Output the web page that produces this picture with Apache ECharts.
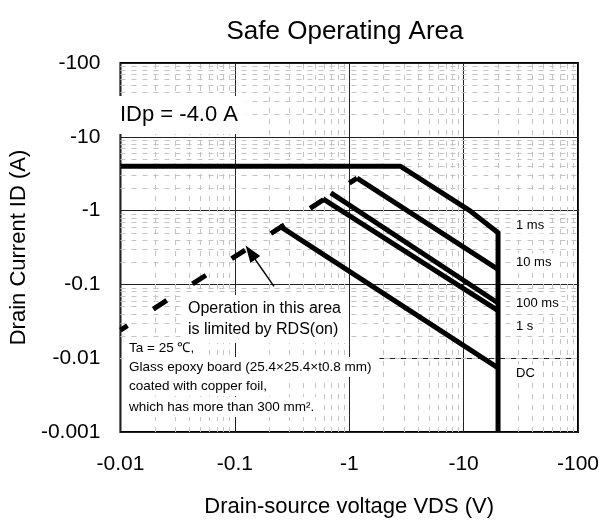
<!DOCTYPE html>
<html>
<head>
<meta charset="utf-8">
<script src="https://cdn.jsdelivr.net/npm/echarts@6/dist/echarts.min.js"></script>
<style>
  html, body { margin: 0; padding: 0; background: #fff; }
  #soa { width: 609px; height: 523px; }
</style>
</head>
<body>
<div id="soa"></div>
<script>
(function () {
  'use strict';

  var FONT = '"Liberation Sans", Arial, sans-serif';

  // tick labels (drawn as negative values, axes use magnitudes)
  var xTickLabels = ['-0.01', '-0.1', '-1', '-10', '-100'];
  var yTickLabels = ['-0.001', '-0.01', '-0.1', '-1', '-10', '-100'];

  // curves, [|VDS| (V), |ID| (A)]
  var pulseLimit = [[0.01, 4], [2.8, 4], [11.3, 1], [20, 0.5], [20, 0.001]];
  var curve10ms = [[1.17, 2.75], [20, 0.16]];
  var curve100ms = [[0.69, 1.74], [20, 0.056]];
  var curve1s = [[0.59, 1.44], [20, 0.044]];
  var curveDC = [[0.245, 0.62], [20, 0.0074]];
  var rdsLimit = [[0.01, 0.024], [1.17, 2.75]];

  // arrow pointing at the RDS(on) line
  var arrowFrom = [0.22, 0.094];
  var arrowTo = [0.137, 0.27];

  // minor grid
  var minorSteps = [2, 3, 4, 5, 6, 7, 8, 9];
  var xDecades = [0.01, 0.1, 1, 10];
  var yDecades = [0.001, 0.01, 0.1, 1, 10];

  var curveLabels = ['1 ms', '10 ms', '100 ms', '1 s', 'DC'];
  var curveLabelY = [225, 262, 303, 326, 373];

  var notes = [
    'Ta = 25 \u2103,',
    'Glass epoxy board (25.4\u00d725.4\u00d7t0.8 mm)',
    'coated with copper foil,',
    'which has more than 300 mm\u00b2.'
  ];
  var notesY = [348, 367, 386, 407];

  var measureCtx = document.createElement('canvas').getContext('2d');

  function textWidth(t, size) {
    measureCtx.font = size + 'px ' + FONT;
    return Math.max.apply(null, t.split('\n').map(function (l) {
      return measureCtx.measureText(l).width;
    }));
  }

  // white box behind a text, left aligned at x, vertically centred on y
  function boxedText(t, x, y, size, lineHeight, pad) {
    var lines = t.split('\n').length;
    var h = lines * lineHeight;
    return [{
      type: 'rect', z: 3, silent: true,
      shape: { x: x - pad[3], y: y - h / 2 - pad[0],
        width: textWidth(t, size) + pad[1] + pad[3], height: h + pad[0] + pad[2] },
      style: { fill: '#fff' }
    }, {
      type: 'text', x: x, y: y, z: 4, silent: true,
      style: { text: t, fontSize: size, lineHeight: lineHeight, fontFamily: FONT,
        fill: '#000', verticalAlign: 'middle' }
    }];
  }

  function minorLines(decades, key) {
    var out = [];
    decades.forEach(function (d) {
      minorSteps.forEach(function (s) {
        var o = {};
        o[key] = +(d * s).toPrecision(3);
        out.push(o);
      });
    });
    return out;
  }

  function curve(data, extra) {
    var s = {
      type: 'line',
      data: data,
      symbol: 'none',
      z: 5,
      lineStyle: { color: '#000', width: 5, cap: 'butt', join: 'miter' }
    };
    if (extra) {
      Object.keys(extra).forEach(function (k) { s.lineStyle[k] = extra[k]; });
    }
    return s;
  }

  var graphics = [];
  graphics.push({
    type: 'text', x: 345, y: 32, z: 10,
    style: { text: 'Safe Operating Area', fontSize: 26, fontFamily: FONT, fill: '#000',
      align: 'center', verticalAlign: 'middle' }
  });
  graphics = graphics.concat(boxedText('IDp = -4.0 A', 120, 115, 22, 24, [7, 8, 7, 9]));
  graphics = graphics.concat(boxedText('Operation in this area\nis limited by RDS(on)',
    188, 319, 16, 21, [3, 8, 3, 5]));
  notes.forEach(function (t, i) {
    graphics = graphics.concat(boxedText(t, 129, notesY[i], 13.5, 16, [2, 8, 2, 6]));
  });
  curveLabels.forEach(function (t, i) {
    graphics = graphics.concat(boxedText(t, 516, curveLabelY[i], 13, 15, [1, 3, 1, 3]));
  });

  var option = {
    animation: false,
    backgroundColor: '#fff',
    textStyle: { fontFamily: FONT },
    grid: { left: 109, right: 31, top: 63, bottom: 85, show: true,
      borderColor: '#000', borderWidth: 2, backgroundColor: 'transparent' },
    xAxis: {
      type: 'log', logBase: 10, min: 0.01, max: 100,
      name: 'Drain-source voltage VDS (V)', nameLocation: 'middle', nameGap: 64,
      nameTextStyle: { fontSize: 22, color: '#000', fontFamily: FONT },
      axisLine: { show: false }, axisTick: { show: false },
      axisLabel: { fontSize: 21, color: '#000', margin: 22, fontFamily: FONT,
        formatter: function (v, i) { return xTickLabels[i]; } },
      splitLine: { show: true, lineStyle: { color: '#222', width: 1 } }
    },
    yAxis: {
      type: 'log', logBase: 10, min: 0.001, max: 100,
      name: 'Drain Current ID (A)', nameLocation: 'middle', nameGap: 68,
      nameTextStyle: { fontSize: 22, color: '#000', fontFamily: FONT },
      axisLine: { show: false }, axisTick: { show: false },
      axisLabel: { fontSize: 21, color: '#000', margin: 20, fontFamily: FONT,
        formatter: function (v, i) { return yTickLabels[i]; } },
      splitLine: { show: true, lineStyle: { color: '#222', width: 1 } }
    },
    graphic: graphics,
    series: [
      {
        type: 'line', data: [], z: 1, silent: true,
        markLine: {
          z: 1, silent: true, symbol: 'none', label: { show: false },
          lineStyle: { color: '#c4c4c4', width: 1, type: [5, 6] },
          data: minorLines(xDecades, 'xAxis').concat(minorLines(yDecades, 'yAxis'))
        }
      },
      curve(pulseLimit),
      curve(curve10ms),
      curve(curve100ms),
      curve(curve1s),
      curve(curveDC),
      curve(rdsLimit, { type: [16, 30.6], dashOffset: 7.6 }),
      {
        type: 'line', data: [], z: 6, silent: true,
        markLine: {
          z: 6, silent: true, symbol: ['none', 'triangle'], symbolSize: [12, 17],
          label: { show: false },
          lineStyle: { color: '#000', width: 1.5, type: 'solid' },
          data: [[{ coord: arrowFrom }, { coord: arrowTo }]]
        }
      }
    ]
  };

  var chart = echarts.init(document.getElementById('soa'));
  chart.setOption(option);
}());
</script>
</body>
</html>
